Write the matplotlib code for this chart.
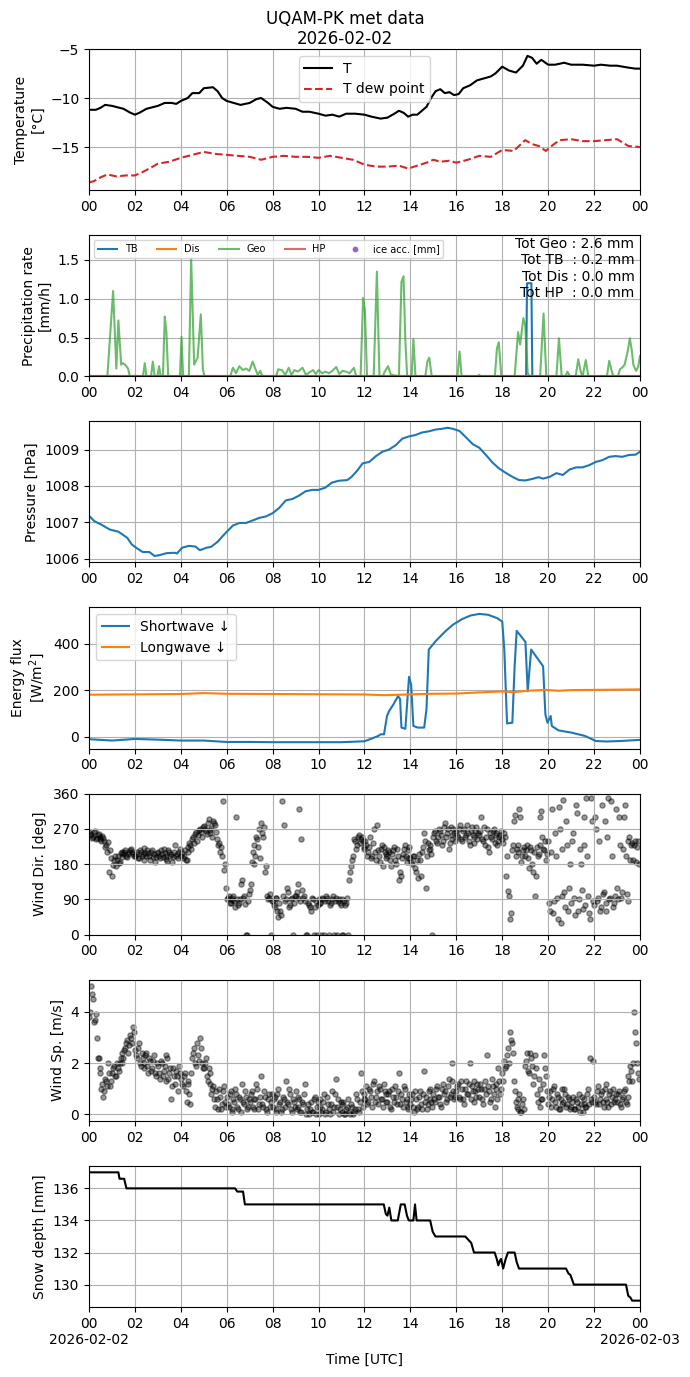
import numpy as np
import pandas as pd
import matplotlib
matplotlib.use('Agg')
import matplotlib.pyplot as plt
import matplotlib.dates as mdates

T0 = pd.Timestamp('2026-02-02 00:00')
date_labels = ['2026-02-02', '2026-02-03']

# temperature (hours since 00 UTC)
temp_h = [0, 0.3, 0.5, 0.7, 1.0, 1.5, 1.8, 2.0, 2.2, 2.5, 3.0, 3.3, 3.6, 3.8, 4.0, 4.3, 4.5, 4.8,
          5.0, 5.4, 5.6, 5.8, 6.0, 6.3, 6.6, 7.0, 7.3, 7.5, 7.8, 8.0, 8.3, 8.6, 9.0, 9.3, 9.6,
          10.0, 10.3, 10.6, 10.9, 11.2, 11.6, 12.0, 12.3, 12.7, 13.0, 13.3, 13.5, 13.7, 13.9,
          14.1, 14.3, 14.5, 14.7, 14.9, 15.1, 15.3, 15.5, 15.7, 15.9, 16.1, 16.3, 16.6, 16.9,
          17.2, 17.5, 17.7, 18.0, 18.3, 18.6, 18.9, 19.1, 19.3, 19.5, 19.7, 20.0, 20.3, 20.7,
          21.0, 21.5, 22.0, 22.3, 22.7, 23.0, 23.5, 23.8, 24.0]
temp_v = [-11.2, -11.2, -11.0, -10.7, -10.8, -11.1, -11.5, -11.7, -11.5, -11.1, -10.8, -10.5,
          -10.5, -10.6, -10.3, -10.0, -9.5, -9.5, -9.0, -8.9, -9.3, -10.0, -10.3, -10.5, -10.7,
          -10.5, -10.1, -10.0, -10.5, -10.9, -11.1, -11.0, -11.1, -11.4, -11.4, -11.6, -11.8,
          -11.7, -11.9, -11.6, -11.6, -11.7, -11.9, -12.1, -12.0, -11.6, -11.3, -11.5, -11.9,
          -11.7, -11.7, -11.3, -10.9, -10.0, -9.3, -9.1, -9.5, -9.4, -9.7, -9.6, -9.0, -8.7,
          -8.2, -8.0, -7.8, -7.5, -6.8, -7.2, -7.4, -6.7, -5.7, -5.9, -6.5, -6.1, -6.6, -6.6,
          -6.4, -6.6, -6.6, -6.7, -6.6, -6.7, -6.7, -6.9, -7.0, -7.0]

dew_h = [0, 0.2, 0.5, 0.8, 1.2, 1.6, 2.0, 2.3, 2.7, 3.0, 3.5, 4.0, 4.5, 5.0, 5.5, 6.0, 6.5, 7.0,
         7.5, 8.0, 8.5, 9.0, 9.5, 10.0, 10.5, 11.0, 11.5, 12.0, 12.5, 13.0, 13.5, 13.9, 14.3,
         14.7, 15.0, 15.3, 15.7, 16.0, 16.5, 17.0, 17.5, 18.0, 18.5, 19.0, 19.3, 19.6, 19.9,
         20.2, 20.5, 21.0, 21.5, 22.0, 22.5, 23.0, 23.5, 24.0]
dew_v = [-18.6, -18.5, -18.1, -17.8, -18.0, -17.9, -17.9, -17.6, -17.1, -16.7, -16.5, -16.1,
         -15.8, -15.5, -15.7, -15.8, -15.9, -16.0, -16.3, -16.0, -15.9, -16.0, -16.0, -16.1,
         -15.9, -16.1, -16.3, -16.8, -17.0, -17.0, -16.9, -17.2, -16.9, -16.6, -16.3, -16.5,
         -16.4, -16.6, -16.3, -15.9, -16.0, -15.3, -15.4, -14.3, -14.7, -14.9, -15.4, -14.8,
         -14.3, -14.2, -14.4, -14.4, -14.3, -14.2, -14.9, -15.0]

# precipitation rate [mm/h]
geo_h = [0, 0.8, 1.05, 1.19, 1.28, 1.40, 1.48, 1.57, 1.70, 1.78, 2.35, 2.43, 2.50, 2.70, 2.78,
         2.86, 2.98, 3.05, 3.12, 3.22, 3.30, 3.37, 3.45, 3.96, 4.03, 4.10, 4.35, 4.45, 4.58,
         4.73, 4.87, 4.96, 5.03, 6.15, 6.27, 6.40, 6.55, 6.70, 6.84, 6.98, 7.13, 7.24, 7.35,
         7.46, 7.55, 8.15, 8.24, 8.40, 8.55, 8.70, 8.82, 8.95, 9.10, 9.30, 9.45, 9.60, 9.76,
         9.88, 10.0, 10.15, 10.30, 10.45, 10.60, 10.77, 10.90, 11.05, 11.20, 11.35, 11.54,
         11.64, 11.83, 11.94, 12.02, 12.11, 12.40, 12.54, 12.65, 12.80, 12.88, 13.03, 13.15,
         13.50, 13.61, 13.70, 13.78, 13.86, 14.05, 14.13, 14.22, 14.65, 14.74, 14.82, 14.93,
         16.05, 16.14, 16.23, 16.95, 17.0, 17.05, 17.68, 17.77, 17.85, 17.96, 18.54, 18.69,
         18.78, 18.92, 19.0, 19.11, 19.20, 19.65, 19.80, 19.92, 20.36, 20.47, 20.59, 20.75,
         20.84, 20.95, 21.20, 21.31, 21.42, 21.50, 21.64, 21.75, 22.56, 22.66, 22.75, 22.84,
         23.04, 23.13, 23.25, 23.33, 23.45, 23.56, 23.65, 23.71, 23.83, 23.92, 24.0]
geo_v = [0, 0, 1.10, 0.10, 0.72, 0.15, 0.17, 0.15, 0.10, 0, 0, 0.17, 0, 0, 0.19,
         0, 0, 0.13, 0, 0, 0.77, 0.58, 0, 0, 0.51, 0, 0, 1.52, 0.15,
         0.24, 0.80, 0.09, 0, 0, 0.11, 0.04, 0.13, 0.08, 0.10, 0.07, 0.19, 0.10, 0.02,
         0.07, 0, 0, 0.09, 0.08, 0.02, 0.11, 0.02, 0.08, 0.06, 0.11, 0.02, 0.05, 0.08,
         0.03, 0.08, 0.04, 0.06, 0.04, 0.07, 0.12, 0.03, 0.07, 0.06, 0.04, 0.11,
         0, 0, 1.01, 0.84, 0, 0, 1.35, 0, 0, 0.06, 0.13, 0.02,
         0, 1.22, 1.29, 0.45, 0, 0, 0.48, 0, 0, 0.19, 0.24, 0,
         0, 0.32, 0, 0, 0.02, 0, 0, 0.36, 0.44, 0, 0, 0.57,
         0.41, 0.75, 0.66, 0.04, 0, 0, 0.81, 0, 0, 0.49, 0, 0,
         0.06, 0, 0, 0.22, 0.06, 0, 0.21, 0, 0, 0.20, 0.09, 0,
         0, 0.09, 0.12, 0.15, 0.30, 0.49, 0.32, 0.15, 0.07, 0.12, 0.26]
tb_h = [0, 19.04, 19.08, 19.27, 19.31, 24]
tb_v = [0, 0, 1.2, 1.2, 0, 0]
dis_h = [0, 24]
dis_v = [0, 0]
hp_h = [0, 24]
hp_v = [0, 0]
totals_txt = 'Tot Geo : 2.6 mm\nTot TB  : 0.2 mm\nTot Dis : 0.0 mm\nTot HP  : 0.0 mm'

# pressure [hPa]
pres_h = [0, 0.23, 0.52, 0.9, 1.28, 1.67, 1.86, 2.05, 2.34, 2.63, 2.86, 3.1, 3.39, 3.74, 3.83,
          4.06, 4.35, 4.64, 4.83, 5.12, 5.31, 5.6, 5.88, 6.27, 6.56, 6.84, 7.13, 7.42, 7.71,
          8.0, 8.28, 8.57, 8.86, 9.14, 9.43, 9.72, 10.0, 10.29, 10.58, 10.87, 11.25, 11.44,
          11.67, 11.92, 12.21, 12.5, 12.78, 13.07, 13.36, 13.65, 13.93, 14.22, 14.51, 14.8,
          15.09, 15.37, 15.62, 15.85, 16.14, 16.43, 16.71, 17.0, 17.29, 17.58, 17.86, 18.15,
          18.44, 18.73, 19.01, 19.3, 19.59, 19.78, 20.07, 20.36, 20.64, 20.93, 21.22, 21.5,
          21.79, 22.08, 22.37, 22.66, 22.94, 23.23, 23.52, 23.81, 24.0]
pres_v = [1007.18, 1007.03, 1006.94, 1006.8, 1006.74, 1006.57, 1006.39, 1006.3, 1006.18,
          1006.18, 1006.07, 1006.1, 1006.15, 1006.16, 1006.14, 1006.3, 1006.35, 1006.33,
          1006.23, 1006.3, 1006.32, 1006.46, 1006.66, 1006.91, 1006.98, 1006.98, 1007.05,
          1007.12, 1007.16, 1007.25, 1007.39, 1007.6, 1007.64, 1007.73, 1007.85, 1007.89,
          1007.89, 1007.95, 1008.09, 1008.14, 1008.16, 1008.25, 1008.41, 1008.62, 1008.66,
          1008.82, 1008.94, 1009.0, 1009.12, 1009.3, 1009.36, 1009.4, 1009.47, 1009.5,
          1009.55, 1009.57, 1009.6, 1009.57, 1009.51, 1009.33, 1009.15, 1009.05, 1008.85,
          1008.64, 1008.48, 1008.36, 1008.25, 1008.16, 1008.15, 1008.19, 1008.24, 1008.2,
          1008.25, 1008.35, 1008.3, 1008.45, 1008.51, 1008.51, 1008.57, 1008.66, 1008.71,
          1008.8, 1008.82, 1008.8, 1008.85, 1008.86, 1008.94]

# radiation [W/m2]
sw_h = [0, 1, 2, 3, 4, 5, 6, 7, 8, 10, 11, 12, 12.3, 12.6, 12.7, 12.85, 12.98, 13.07, 13.26,
        13.46, 13.55, 13.61, 13.78, 13.94, 14.03, 14.13, 14.32, 14.6, 14.7, 14.8, 15.09,
        15.47, 15.85, 16.24, 16.62, 17.0, 17.39, 17.77, 18.0, 18.09, 18.21, 18.44, 18.54,
        18.63, 19.01, 19.11, 19.26, 19.78, 19.88, 19.97, 20.11, 20.16, 20.45, 21.03, 21.6,
        22.08, 22.56, 23.13, 24.0]
sw_v = [-11, -17, -10, -13, -17, -17, -23, -23, -24, -24, -24, -20, -9, 3, 10, 10, 89, 110,
        139, 175, 163, 39, 34, 258, 225, 46, 39, 39, 118, 376, 411, 450, 483, 507, 523, 530,
        526, 512, 497, 376, 57, 60, 304, 457, 409, 196, 376, 304, 96, 60, 89, 46, 27, 17, 3,
        -19, -21, -19, -14]
lw_h = [0, 4, 5, 6, 12, 12.85, 13.9, 14.9, 16, 17, 18, 18.5, 19.1, 19.9, 20.45, 21, 22.2, 24]
lw_v = [181, 184, 188, 185, 182, 179, 182, 185, 186, 191, 195, 192, 198, 202, 198, 201, 202, 204]

# wind, 5 min samples (a) and the samples 2.5 min later (b)
wdir_a = [262, 255, 250, 265, 248, 258, 245, 252, 240, 228, 236, 215,
          150, 190, 175, 200, 185, 210, 205, 215, 198, 210, 220, 205,
          200, 212, 195, 210, 205, 222, 200, 208, 190, 215, 205, 198,
          210, 195, 205, 220, 200, 188, 212, 205, 198, 230, 205, 210,
          200, 195, 215, 190, 225, 230, 245, 235, 262, 255, 270, 250,
          278, 265, 285, 260, 272, 290, 280, 245, 235, 225, 340, 180,
          90, 100, 80, 95, 85, 300, 75, 90, 140, 100, 0, 85,
          115, 185, 230, 200, 245, 270, 285, 250, 160, 100, 95, 0,
          85, 70, 95, 45, 60, 340, 280, 90, 110, 75, 95, 80,
          100, 130, 320, 245, 95, 85, 0, 75, 60, 90, 70, 0,
          90, 80, 95, 0, 100, 85, 75, 90, 0, 95, 85, 80,
          90, 0, 75, 95, 140, 175, 200, 240, 230, 255, 245, 240,
          220, 230, 210, 250, 200, 270, 190, 215, 185, 230, 225, 205,
          200, 210, 175, 215, 190, 220, 140, 150, 205, 230, 185, 215,
          195, 180, 200, 160, 145, 190, 210, 260, 120, 235, 220, 205,
          250, 265, 235, 270, 255, 240, 285, 260, 220, 275, 245, 260,
          265, 250, 280, 240, 270, 255, 260, 230, 275, 250, 265, 245,
          255, 300, 240, 230, 270, 210, 250, 265, 235, 260, 240, 255,
          245, 260, 150, 112, 40, 215, 290, 200, 230, 320, 185, 215,
          200, 230, 170, 215, 160, 98, 225, 205, 300, 250, 215, 190,
          240, 60, 320, 85, 200, 40, 270, 100, 345, 70, 230, 120,
          80, 260, 50, 310, 90, 180, 65, 230, 350, 100, 40, 290,
          75, 270, 95, 60, 330, 110, 80, 250, 90, 340, 70, 100,
          120, 300, 95, 220, 330, 105, 240, 190, 235, 230, 185, 240]
wdir_b = [258, 248, 262, 244, 255, 250, 238, 246, 225, 210, 160, 195,
          178, 200, 190, 182, 208, 198, 212, 200, 205, 215, 210, 200,
          205, 195, 215, 200, 190, 208, 215, 200, 212, 198, 185, 208,
          200, 215, 198, 208, 192, 215, 200, 185, 210, 200, 195, 218,
          208, 200, 190, 210, 235, 220, 250, 258, 240, 268, 262, 275,
          270, 258, 295, 268, 250, 285, 262, 230, 210, 200, 165, 120,
          95, 80, 88, 100, 70, 90, 82, 130, 95, 78, 0, 105,
          130, 210, 180, 250, 225, 195, 260, 275, 175, 90, 105, 85,
          75, 95, 60, 80, 50, 100, 85, 120, 70, 90, 0, 100,
          110, 95, 85, 115, 100, 0, 80, 70, 95, 0, 85, 75,
          80, 0, 90, 85, 95, 0, 80, 100, 85, 0, 90, 75,
          0, 85, 80, 0, 160, 190, 245, 220, 250, 235, 250, 225,
          240, 200, 225, 195, 235, 210, 280, 200, 220, 175, 210, 195,
          215, 190, 205, 225, 180, 200, 160, 195, 220, 200, 195, 225,
          185, 200, 170, 190, 205, 150, 225, 240, 200, 215, 230, 0,
          260, 240, 250, 265, 230, 275, 250, 270, 235, 255, 270, 240,
          255, 270, 245, 265, 250, 280, 240, 265, 255, 235, 275, 260,
          265, 245, 275, 250, 225, 260, 245, 270, 255, 230, 250, 265,
          235, 250, 200, 100, 55, 230, 305, 220, 210, 300, 200, 225,
          215, 195, 225, 180, 210, 150, 200, 230, 315, 220, 240, 205,
          80, 210, 55, 260, 95, 325, 30, 220, 110, 290, 60, 180,
          240, 95, 330, 60, 220, 115, 300, 75, 200, 55, 350, 85,
          300, 85, 240, 70, 105, 290, 60, 350, 95, 200, 80, 320,
          90, 230, 110, 300, 200, 85, 250, 230, 190, 240, 225, 180]
wspd_a = [3.8, 5.0, 4.5, 3.7, 3.0, 2.2, 1.6, 1.2, 0.9, 1.3, 2.0, 1.1,
          1.6, 1.9, 1.5, 1.8, 2.0, 2.4, 2.2, 2.6, 2.9, 2.7, 3.0, 3.4,
          2.5, 2.2, 2.8, 1.9, 2.2, 2.0, 2.4, 1.6, 2.1, 1.8, 2.3, 1.5,
          1.9, 1.4, 2.0, 1.7, 1.3, 2.2, 1.6, 0.6, 1.8, 1.2, 1.5, 1.9,
          1.4, 1.1, 1.6, 0.5, 1.2, 0.4, 2.2, 2.6, 1.9, 2.3, 3.0, 2.0,
          1.8, 2.2, 1.3, 1.6, 0.8, 1.1, 0.3, 0.6, 1.0, 0.2, 0.9, 0.5,
          0.7, 0.3, 0.9, 0.1, 0.5, 0.8, 0.2, 0.6, 1.2, 0.4, 0.7, 0.3,
          0.5, 0.9, 0.2, 0.6, 1.0, 0.4, 1.5, 0.3, 0.7, 0.1, 0.8, 0.5,
          0.3, 0.7, 0.1, 1.0, 0.5, 0.2, 0.6, 1.3, 0.4, 0.8, 0.1, 0.5,
          0.9, 0.3, 0.6, 0.1, 0.4, 1.2, 0.2, 0.0, 0.5, 0.1, 0.7, 0.3,
          0.0, 0.6, 0.2, 0.8, 0.1, 0.4, 0.0, 0.9, 0.3, 1.4, 0.6, 0.2,
          0.1, 0.5, 0.0, 0.3, 0.1, 0.4, 0.0, 0.2, 0.6, 0.1, 1.6, 0.3,
          0.8, 1.1, 0.5, 0.9, 0.3, 1.3, 0.7, 0.4, 1.0, 0.6, 1.2, 0.8,
          0.5, 0.9, 0.2, 0.7, 1.1, 0.4, 1.6, 0.8, 0.3, 1.0, 0.6, 0.2,
          0.4, 0.8, 0.1, 0.6, 0.3, 0.9, 0.2, 1.7, 0.7, 0.4, 1.0, 0.5,
          0.8, 0.5, 1.1, 0.7, 0.3, 1.2, 0.9, 0.6, 1.4, 0.8, 2.0, 0.6,
          0.9, 1.2, 0.6, 1.0, 0.4, 1.3, 0.8, 2.0, 1.1, 0.5, 0.9, 1.2,
          0.7, 1.0, 0.4, 1.3, 2.3, 0.9, 0.6, 1.1, 0.3, 1.2, 1.8, 0.8,
          1.6, 2.1, 1.9, 2.6, 3.2, 2.8, 1.3, 0.5, 0.2, 0.8, 0.1, 0.6,
          1.9, 2.4, 1.6, 2.2, 1.2, 2.3, 0.8, 1.4, 0.3, 0.6, 2.3, 1.5,
          0.4, 0.9, 0.6, 1.1, 0.3, 0.7, 0.2, 1.0, 0.5, 0.8, 0.4, 0.6,
          0.3, 0.7, 0.2, 0.5, 0.8, 0.4, 0.1, 0.6, 0.3, 1.0, 2.2, 0.5,
          0.7, 0.4, 1.1, 0.6, 0.9, 0.3, 1.2, 0.5, 0.8, 0.4, 1.0, 0.6,
          0.5, 0.9, 0.3, 0.7, 1.0, 0.4, 1.5, 1.9, 1.3, 4.0, 2.8, 1.6]
wspd_b = [4.0, 4.7, 3.6, 3.9, 2.2, 1.8, 1.0, 0.7, 1.4, 1.1, 1.6, 1.3,
          1.8, 1.5, 2.0, 1.7, 2.2, 2.0, 2.5, 2.8, 2.4, 3.1, 2.8, 3.2,
          2.3, 2.6, 2.0, 2.4, 1.8, 2.3, 1.9, 2.2, 1.7, 2.1, 1.6, 2.0,
          1.6, 2.1, 1.5, 1.9, 2.3, 1.4, 1.8, 1.1, 1.5, 1.7, 0.9, 1.6,
          1.2, 1.5, 0.9, 1.3, 0.8, 1.6, 2.4, 2.0, 2.8, 2.1, 2.6, 1.8,
          2.0, 1.5, 1.8, 1.2, 1.0, 0.6, 0.9, 0.2, 0.7, 0.4, 1.1, 0.3,
          0.4, 0.8, 0.2, 0.6, 1.0, 0.3, 0.7, 0.1, 0.5, 0.9, 0.2, 0.6,
          0.8, 0.3, 0.6, 1.2, 0.2, 0.7, 0.4, 0.9, 0.2, 0.6, 0.3, 0.8,
          0.6, 0.2, 0.8, 0.4, 0.1, 0.7, 0.3, 0.5, 1.0, 0.2, 0.6, 0.3,
          0.2, 0.7, 0.1, 0.5, 0.8, 0.0, 0.4, 0.2, 0.1, 0.6, 0.0, 0.5,
          0.3, 0.1, 0.5, 0.0, 0.7, 0.2, 0.4, 0.1, 0.8, 0.3, 0.0, 0.5,
          0.4, 0.0, 0.2, 0.6, 0.0, 0.3, 0.1, 0.8, 0.2, 0.5, 0.9, 0.6,
          0.6, 0.4, 1.0, 0.7, 1.2, 0.5, 0.9, 1.1, 0.6, 0.3, 0.9, 0.5,
          0.8, 0.3, 1.0, 0.5, 0.7, 0.9, 0.4, 0.6, 1.1, 0.5, 0.3, 0.8,
          0.6, 0.3, 0.9, 0.2, 0.7, 0.4, 0.8, 0.5, 0.2, 0.9, 0.6, 0.3,
          0.6, 1.0, 0.7, 0.4, 1.0, 0.8, 0.5, 1.1, 0.7, 1.3, 0.9, 0.7,
          1.1, 0.7, 1.3, 0.6, 1.0, 0.8, 1.2, 0.6, 0.9, 1.3, 0.7, 1.0,
          1.2, 0.6, 1.0, 0.8, 1.1, 0.5, 1.4, 0.8, 1.0, 0.6, 1.3, 1.0,
          1.3, 1.8, 2.3, 2.0, 2.9, 2.4, 0.9, 0.3, 0.6, 0.1, 0.4, 0.2,
          2.1, 1.7, 2.4, 1.9, 1.5, 1.8, 0.5, 1.0, 0.6, 1.2, 1.8, 0.9,
          0.7, 0.3, 1.0, 0.5, 0.8, 0.2, 0.6, 0.4, 1.0, 0.3, 0.7, 0.2,
          0.5, 0.2, 0.6, 0.3, 0.1, 0.7, 0.4, 0.3, 0.8, 0.4, 0.6, 2.1,
          0.5, 0.9, 0.4, 0.8, 0.5, 1.0, 0.6, 0.3, 0.9, 0.7, 0.5, 0.8,
          0.8, 0.4, 0.6, 0.9, 0.5, 0.7, 1.3, 1.7, 2.0, 3.2, 2.0, 1.4]

# snow depth [mm]
snow_h = [0, 1.28, 1.33, 1.53, 1.63, 6.36, 6.46, 6.71, 6.79, 12.84, 12.93, 13.0, 13.08, 13.17,
          13.45, 13.58, 13.75, 13.85, 13.93, 14.13, 14.2, 14.27, 14.86, 14.97, 15.09, 16.39,
          16.52, 16.65, 16.77, 17.67, 17.76, 17.83, 17.9, 17.95, 18.04, 18.15, 18.25, 18.54,
          18.63, 18.73, 20.78, 20.88, 20.97, 21.12, 23.39, 23.49, 23.58, 23.66, 24.0]
snow_v = [137, 137, 136.6, 136.6, 136, 136, 135.8, 135.8, 135, 135, 134.4, 134.3, 134.8, 134,
          134, 135, 135, 134.3, 134, 134, 135, 134, 134, 133.3, 133, 133, 132.8, 132.6, 132,
          132, 131.6, 131.2, 131.5, 131.6, 131.0, 131.6, 132, 132, 131.4, 131, 131, 130.7,
          130.6, 130, 130, 129.3, 129.2, 129, 129]


def to_time(h):
    return T0 + pd.to_timedelta(np.asarray(h, dtype=float), unit='h')


wind_ta = T0 + pd.to_timedelta(np.arange(len(wdir_a)) * 5.0, unit='min')
wind_tb = wind_ta + pd.Timedelta(minutes=2.5)
t_end = T0 + pd.Timedelta(hours=24)

fig, axs = plt.subplots(7, 1, figsize=(6.9, 13.77), dpi=100)
fig.subplots_adjust(left=0.129, right=0.9275, top=0.9644, bottom=0.0508, hspace=0.319)
fig.suptitle('UQAM-PK met data\n2026-02-02', y=0.993)

ax = axs[0]
ax.plot(to_time(temp_h), temp_v, color='k', lw=1.5, label='T')
ax.plot(to_time(dew_h), dew_v, color='tab:red', ls='--', lw=1.5, label='T dew point')
ax.set_ylim(-19.4, -5)
ax.set_ylabel('Temperature\n[°C]')
ax.legend(loc='upper center')

ax = axs[1]
ax.plot(to_time(tb_h), tb_v, color='tab:blue', lw=1.5, label='TB')
ax.plot(to_time(dis_h), dis_v, color='tab:orange', lw=1.5, label='Dis')
ax.plot(to_time(geo_h), geo_v, color='tab:green', lw=1.5, alpha=0.7, label='Geo')
ax.plot(to_time(hp_h), hp_v, color='tab:red', lw=1.5, alpha=0.7, label='HP')
ax.scatter([], [], color='tab:purple', s=10, label='ice acc. [mm]')
ax.set_ylim(0, 1.82)
ax.set_ylabel('Precipitation rate\n[mm/h]')
ax.legend(loc='upper left', ncol=5, fontsize=7)
ax.text(0.99, 0.985, totals_txt, ha='right', va='top', transform=ax.transAxes, fontsize=10)

ax = axs[2]
ax.plot(to_time(pres_h), pres_v, color='tab:blue', lw=1.5)
ax.set_ylabel('Pressure [hPa]')

ax = axs[3]
ax.plot(to_time(sw_h), sw_v, color='tab:blue', lw=1.5, label='Shortwave ↓')
ax.plot(to_time(lw_h), lw_v, color='tab:orange', lw=1.5, label='Longwave ↓')
ax.set_ylabel('Energy flux\n[W/m$^2$]')
ax.legend(loc='upper left')

ax = axs[4]
ax.scatter(wind_ta, wdir_a, color='k', s=14, alpha=0.4)
ax.scatter(wind_tb, wdir_b, color='k', s=14, alpha=0.4)
ax.set_ylim(0, 360)
ax.set_yticks([0, 90, 180, 270, 360])
ax.set_ylabel('Wind Dir. [deg]')

ax = axs[5]
ax.scatter(wind_ta, wspd_a, color='k', s=14, alpha=0.4)
ax.scatter(wind_tb, wspd_b, color='k', s=14, alpha=0.4)
ax.set_ylabel('Wind Sp. [m/s]')

ax = axs[6]
ax.plot(to_time(snow_h), snow_v, color='k', lw=1.5)
ax.set_ylabel('Snow depth [mm]')
ax.set_xlabel('Time [UTC]', labelpad=16)
# day labels under the first and last 00 ticks
for x, lab in zip([T0, t_end], date_labels):
    ax.annotate(lab, xy=(x, 0), xycoords=('data', 'axes fraction'),
                xytext=(0, -18.5), textcoords='offset points', ha='center', va='top')

for ax in axs:
    ax.set_xlim(T0, t_end)
    ax.xaxis.set_major_locator(mdates.HourLocator(byhour=range(0, 24, 2)))
    ax.xaxis.set_major_formatter(mdates.DateFormatter('%H'))
    ax.grid(True)

fig.savefig('out.png', dpi=100)
